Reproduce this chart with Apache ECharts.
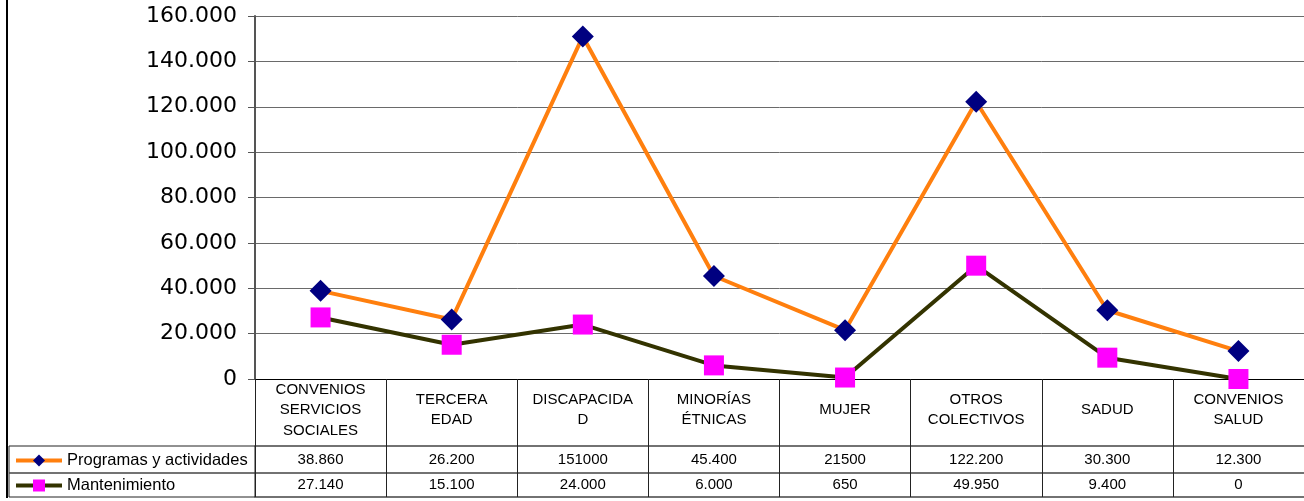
<!DOCTYPE html>
<html>
<head>
<meta charset="utf-8">
<script src="https://cdn.jsdelivr.net/npm/echarts@6/dist/echarts.min.js"></script>
<style>
html,body{margin:0;padding:0;background:#fff;}
#c{width:1304px;height:501px;}
</style>
</head>
<body>
<div id="c"></div>
<script>
const categories = ['CONVENIOS\nSERVICIOS\nSOCIALES', 'TERCERA\nEDAD', 'DISCAPACIDA\nD', 'MINORÍAS\nÉTNICAS', 'MUJER', 'OTROS\nCOLECTIVOS', 'SADUD', 'CONVENIOS\nSALUD'];
const programas = [38860, 26200, 151000, 45400, 21500, 122200, 30300, 12300];
const mantenimiento = [27140, 15100, 24000, 6000, 650, 49950, 9400, 0];
const programasTable = ['38.860', '26.200', '151000', '45.400', '21500', '122.200', '30.300', '12.300'];
const mantenimientoTable = ['27.140', '15.100', '24.000', '6.000', '650', '49.950', '9.400', '0'];
const seriesNames = ['Programas y actividades', 'Mantenimiento'];
const yMin = 0, yMax = 160000, yStep = 20000;

function fmt(v) {
  return String(v).replace(/\B(?=(\d{3})+(?!\d))/g, '.');
}

const chart = echarts.init(document.getElementById('c'));
const border = '#222';
const tableFont = { fontFamily: 'Liberation Sans', fontSize: 15, color: '#000' };

function tableAxis(data, offset, tickLen, margin) {
  return {
    type: 'category', position: 'bottom', offset: offset, data: data,
    boundaryGap: true,
    axisLine: { show: true, lineStyle: { color: '#444', width: 1.5 } },
    axisTick: { show: true, length: tickLen, interval: 0, lineStyle: { color: border, width: 1 } },
    axisLabel: Object.assign({ interval: 0, margin: margin, verticalAlign: 'middle' }, tableFont),
    splitLine: { show: false }
  };
}

function legendFor(name, top, lineColor) {
  return {
    orient: 'horizontal', left: 14, top: top, padding: 0,
    itemWidth: 46, itemHeight: 15, itemGap: 0,
    textStyle: { fontFamily: 'Liberation Sans', fontSize: 16.5, color: '#000' },
    lineStyle: { width: 4, color: lineColor },
    data: [name]
  };
}

chart.setOption({
  animation: false,
  backgroundColor: '#fff',
  grid: { left: 255, right: 0, top: 16, bottom: 122, containLabel: false },
  legend: [
    legendFor(seriesNames[0], 452, '#FF7F0E'),
    legendFor(seriesNames[1], 477, '#333300')
  ],
  xAxis: [
    {
      type: 'category', position: 'bottom', data: categories, boundaryGap: true,
      axisLine: { show: true, lineStyle: { color: '#000', width: 1 } },
      axisTick: { show: true, length: 67, interval: 0, lineStyle: { color: border, width: 1 } },
      axisLabel: Object.assign({ interval: 0, margin: 31, verticalAlign: 'middle', lineHeight: 20.5 }, tableFont)
    },
    tableAxis(programasTable, 67, 27, 14),
    tableAxis(mantenimientoTable, 94, 24, 12),
    {
      type: 'category', position: 'bottom', offset: 118, data: categories,
      axisLine: { show: true, lineStyle: { color: '#444', width: 1.5 } },
      axisTick: { show: false }, axisLabel: { show: false }
    }
  ],
  yAxis: {
    type: 'value', min: yMin, max: yMax, interval: yStep,
    axisLine: { show: true, lineStyle: { color: '#555', width: 2 } },
    axisTick: { show: true, length: 7, lineStyle: { color: '#555', width: 1 } },
    axisLabel: { fontFamily: 'DejaVu Sans', fontSize: 22, color: '#000', margin: 18, formatter: fmt },
    splitLine: { show: true, lineStyle: { color: '#6a6a6a', width: 1 } }
  },
  series: [
    {
      name: seriesNames[0], type: 'line', data: programas,
      symbol: 'diamond', symbolSize: 22,
      lineStyle: { color: '#FF7F0E', width: 4 },
      itemStyle: { color: '#000080' },
      z: 3
    },
    {
      name: seriesNames[1], type: 'line', data: mantenimiento,
      symbol: 'rect', symbolSize: 20,
      lineStyle: { color: '#333300', width: 4 },
      itemStyle: { color: '#FF00FF' },
      z: 2
    }
  ],
  graphic: [
    { type: 'line', shape: { x1: 7, y1: 0, x2: 7, y2: 498 }, style: { stroke: '#000', lineWidth: 2 } },
    { type: 'rect', shape: { x: 9, y: 446, width: 246, height: 51 }, style: { fill: 'none', stroke: border, lineWidth: 1 } },
    { type: 'line', shape: { x1: 9, y1: 473, x2: 255, y2: 473 }, style: { stroke: '#444', lineWidth: 1.5 } }
  ]
});
</script>
</body>
</html>
